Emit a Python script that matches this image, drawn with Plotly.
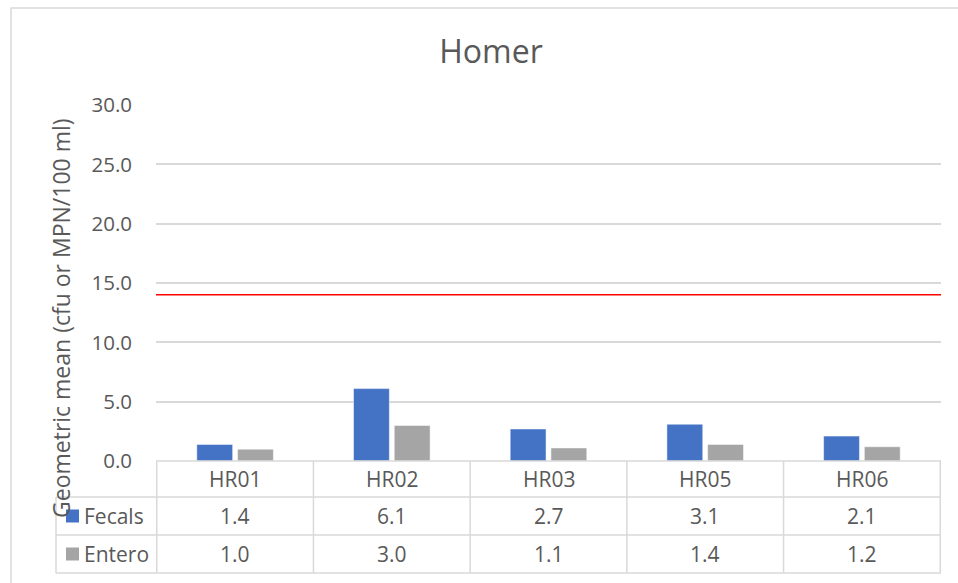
import plotly.graph_objects as go

categories = ["HR01", "HR02", "HR03", "HR05", "HR06"]
fecals = [1.4, 6.1, 2.7, 3.1, 2.1]
entero = [1.0, 3.0, 1.1, 1.4, 1.2]
series_names = ["Fecals", "Entero"]
threshold = 14.0
title_text = "Homer"
y_title = "Geometric mean (cfu or MPN/100 ml)"

BLUE = "#4472C4"
GRAY = "#A5A5A5"
TXT = "#595959"
LINE = "#D9D9D9"
FONT = "'Open Sans', 'Noto Sans', sans-serif"
FS_TICK = 20.5
FS_TAB = 21

W, H = 958, 583
ml, mr, mt, mb = 156, 17, 105, 122
pw, ph = W - ml - mr, H - mt - mb

def py(pix):  # pixel y (from top) -> paper y
    return (H - mb - pix) / ph

def px(pix):
    return (pix - ml) / pw

fig = go.Figure()
fig.add_trace(go.Bar(x=categories, y=fecals, name=series_names[0], marker=dict(color=BLUE, line=dict(color="white", width=0.5))))
fig.add_trace(go.Bar(x=categories, y=entero, name=series_names[1], marker=dict(color=GRAY, line=dict(color="white", width=0.5))))

shapes = []
annotations = []

shapes.append(dict(type="line", xref="paper", yref="y", x0=0, x1=1, y0=threshold, y1=threshold,
                   line=dict(color="#FF0000", width=1.5)))

row_edges = [461, 497, 535, 573]
leg_left = 56
n = len(categories)
for i, yy in enumerate(row_edges):
    x0 = 0 if i == 0 else px(leg_left)
    shapes.append(dict(type="line", xref="paper", yref="paper", x0=x0, x1=1, y0=py(yy), y1=py(yy),
                       line=dict(color=LINE, width=1.5)))
for k in range(n + 1):
    shapes.append(dict(type="line", xref="x", yref="paper", x0=k - 0.5, x1=k - 0.5,
                       y0=py(row_edges[0]), y1=py(row_edges[-1]), line=dict(color=LINE, width=1.5)))
shapes.append(dict(type="line", xref="paper", yref="paper", x0=px(leg_left), x1=px(leg_left),
                   y0=py(row_edges[1]), y1=py(row_edges[-1]), line=dict(color=LINE, width=1.5)))

rows = [fecals, entero]
for j, c in enumerate(categories):
    annotations.append(dict(x=c, xref="x", y=py((row_edges[0] + row_edges[1]) / 2), yref="paper",
                            xanchor="center", yanchor="middle",
                            text=c, showarrow=False, font=dict(size=FS_TAB, color=TXT, family=FONT)))
    for r, vals in enumerate(rows):
        annotations.append(dict(x=c, xref="x", y=py((row_edges[r + 1] + row_edges[r + 2]) / 2), yref="paper",
                                xanchor="center", yanchor="middle",
                                text=f"{vals[j]:.1f}", showarrow=False,
                                font=dict(size=FS_TAB, color=TXT, family=FONT)))

for r, (name, col) in enumerate(zip(series_names, [BLUE, GRAY])):
    cy = (row_edges[r + 1] + row_edges[r + 2]) / 2
    shapes.append(dict(type="rect", xref="paper", yref="paper", x0=px(66), x1=px(79),
                       y0=py(cy + 6.5), y1=py(cy - 6.5), fillcolor=col, line=dict(width=0)))
    annotations.append(dict(x=px(82), xref="paper", y=py(cy), yref="paper", text=name,
                            xanchor="left", yanchor="middle",
                            showarrow=False, font=dict(size=FS_TAB, color=TXT, family=FONT)))

annotations.append(dict(x=px(61), xref="paper", y=py(318), yref="paper", text=y_title, textangle=-90,
                        xanchor="center", yanchor="middle",
                        showarrow=False, font=dict(size=23, color=TXT, family=FONT)))

shapes.append(dict(type="rect", xref="paper", yref="paper", x0=px(11), x1=px(975), y0=py(600), y1=py(8),
                   line=dict(color=LINE, width=1.5), fillcolor="rgba(0,0,0,0)", layer="below"))

fig.update_layout(
    width=W, height=H,
    margin=dict(l=ml, r=mr, t=mt, b=mb),
    paper_bgcolor="white", plot_bgcolor="white",
    title=dict(text=title_text, x=491 / W, xref="container", xanchor="center", y=1 - 52 / H, yanchor="middle",
               font=dict(size=32, color=TXT, family=FONT)),
    showlegend=False,
    barmode="group", bargap=0.48, bargroupgap=0.12,
    font=dict(family=FONT, color=TXT),
    xaxis=dict(showticklabels=False, showgrid=False, zeroline=False, showline=False, fixedrange=True),
    yaxis=dict(range=[0, 30], dtick=5, tickformat=".1f", showgrid=True, gridcolor=LINE, gridwidth=1.5,
               zeroline=False, showline=False, ticks="", ticklabelstandoff=23,
               tickfont=dict(size=FS_TICK, color=TXT, family=FONT)),
    shapes=shapes, annotations=annotations,
)

fig.write_html("out.html", config={"displayModeBar": False},
               post_script="document.body.style.margin='0';document.body.style.overflow='hidden';")
